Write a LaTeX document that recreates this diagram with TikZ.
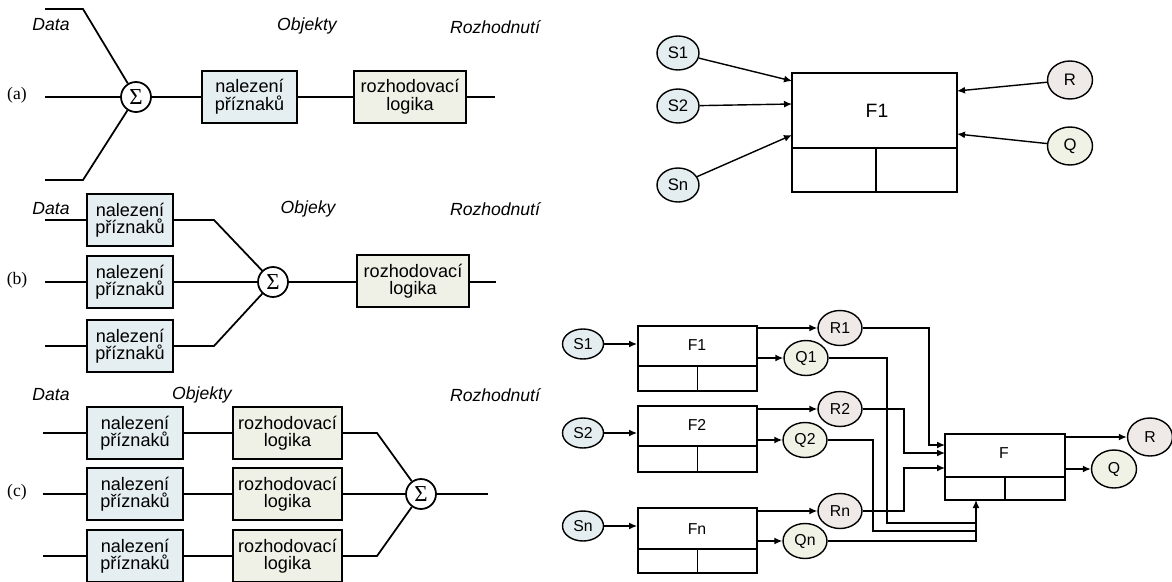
\documentclass[tikz,border=0pt]{standalone}
\usepackage{fontspec}
\setsansfont{Liberation Sans}
\newfontfamily\partfont{Liberation Serif}
\usetikzlibrary{shapes.geometric,arrows.meta}
\definecolor{nalfill}{HTML}{E5EEF1}
\definecolor{rozfill}{HTML}{EFF1E6}
\definecolor{sfill}{HTML}{E4EDEF}
\definecolor{rfill}{HTML}{EFEAE7}
\definecolor{qfill}{HTML}{F1F2E6}
\begin{document}
\begin{tikzpicture}[x=0.02cm,y=-0.02cm,line width=0.8pt,
  nal/.style={draw, line width=1.2pt, fill=nalfill, align=center, inner sep=0pt, minimum height=1.04cm, font=\sffamily\fontsize{10.3}{10}\selectfont},
  roz/.style={nal, fill=rozfill},
  sum/.style={circle, draw, line width=1pt, fill=white, inner sep=0pt, minimum size=0.6cm, font=\partfont\fontsize{13}{13}\selectfont},
  tag/.style={font=\sffamily\itshape\fontsize{10}{12}\selectfont},
  part/.style={font=\partfont\fontsize{10}{12}\selectfont},
  wire/.style={line width=1pt},
  fbox/.style={draw, line width=1.1pt, inner sep=0pt},
  flab/.style={font=\sffamily\fontsize{9}{10}\selectfont},
  sig/.style={ellipse, draw, line width=0.8pt, fill=sfill, inner sep=0pt, minimum width=0.82cm, minimum height=0.6cm, font=\sffamily\fontsize{9}{10}\selectfont},
  rel/.style={sig, fill=rfill, minimum width=0.88cm, minimum height=0.7cm},
  qel/.style={rel, fill=qfill},
  arr/.style={-{Latex[length=1.6mm,width=1.4mm]}}]
\useasboundingbox (0,0) rectangle (1172,581);

% (a)
\node[tag] (ad) at (51,25) {Data};
\node[tag] (ao) at (307,26) {Objekty};
\node[tag] (ar) at (495,27) {Rozhodnutí};
\node[part] (al) at (17,95) {(a)};
\node[sum] (sa) at (136,97) {Σ};
\node[nal, minimum width=1.9cm] (na) at (249.5,97) {nalezení\\příznaků};
\node[roz, minimum width=2.24cm] (ra) at (410,97) {rozhodovací\\logika};
\coordinate (a1) at (45,9);
\coordinate (a1k) at (83,9);
\coordinate (a2) at (45,97);
\coordinate (a3) at (45,180);
\coordinate (a3k) at (83,180);
\coordinate (aout) at (495,97);
\draw[wire] (a1) -- (a1k) -- (sa);
\draw[wire] (a2) -- (sa);
\draw[wire] (a3) -- (a3k) -- (sa);
\draw[wire] (sa) -- (na);
\draw[wire] (na) -- (ra);
\draw[wire] (ra) -- (aout);

% (b)
\node[tag] (bd) at (51,209) {Data};
\node[tag] (bo) at (308,209) {Objeky};
\node[tag] (br) at (495,209) {Rozhodnutí};
\node[part] (bl) at (17,280) {(b)};
\node[nal, minimum width=1.72cm] (nb1) at (130,220) {nalezení\\příznaků};
\node[nal, minimum width=1.72cm] (nb2) at (130,282) {nalezení\\příznaků};
\node[nal, minimum width=1.72cm] (nb3) at (130,346) {nalezení\\příznaků};
\node[sum] (sb) at (273,282) {Σ};
\node[roz, minimum width=2.24cm] (rb) at (413,281) {rozhodovací\\logika};
\coordinate (b1) at (45,220);
\coordinate (b2) at (45,282);
\coordinate (b3) at (45,346);
\coordinate (b1k) at (214,220);
\coordinate (b3k) at (214,346);
\coordinate (bout) at (496,282);
\draw[wire] (b1) -- (nb1);
\draw[wire] (b2) -- (nb2);
\draw[wire] (b3) -- (nb3);
\draw[wire] (nb1.east) -- (b1k) -- (sb);
\draw[wire] (nb2) -- (sb);
\draw[wire] (nb3.east) -- (b3k) -- (sb);
\draw[wire] (sb) -- (sb -| rb.west);
\draw[wire] (rb.east |- sb) -- (bout);

% (c)
\node[tag] (cd) at (51,395) {Data};
\node[tag] (co) at (202,395) {Objekty};
\node[tag] (cr) at (495,395) {Rozhodnutí};
\node[part] (cl) at (17,492) {(c)};
\node[nal, minimum width=1.92cm] (nc1) at (135,433) {nalezení\\příznaků};
\node[nal, minimum width=1.92cm] (nc2) at (135,494) {nalezení\\příznaků};
\node[nal, minimum width=1.92cm] (nc3) at (135,556) {nalezení\\příznaků};
\node[roz, minimum width=2.18cm] (rc1) at (287.5,433) {rozhodovací\\logika};
\node[roz, minimum width=2.18cm] (rc2) at (287.5,494) {rozhodovací\\logika};
\node[roz, minimum width=2.18cm] (rc3) at (287.5,556) {rozhodovací\\logika};
\node[sum] (sc) at (421,494) {Σ};
\coordinate (c1) at (43,433);
\coordinate (c2) at (43,494);
\coordinate (c3) at (43,556);
\coordinate (c1k) at (377,433);
\coordinate (c3k) at (377,556);
\coordinate (cout) at (488,494);
\draw[wire] (c1) -- (nc1);
\draw[wire] (c2) -- (nc2);
\draw[wire] (c3) -- (nc3);
\draw[wire] (nc1) -- (rc1);
\draw[wire] (nc2) -- (rc2);
\draw[wire] (nc3) -- (rc3);
\draw[wire] (rc1.east) -- (c1k) -- (sc);
\draw[wire] (rc2) -- (sc);
\draw[wire] (rc3.east) -- (c3k) -- (sc);
\draw[wire] (sc) -- (cout);

% top right
\node[fbox, minimum width=3.3cm, minimum height=2.38cm] (tf) at (874.5,132.5) {};
\draw[line width=1.1pt] (tf.west |- 0,148) -- (tf.east |- 0,148);
\draw[line width=1.1pt] (876,148) -- (tf.south -| 876,0);
\node[font=\sffamily\fontsize{11}{12}\selectfont] (tft) at (877,111) {F1};
\node[sig, minimum width=0.84cm, minimum height=0.68cm, font=\sffamily\fontsize{9.5}{10}\selectfont] (ts1) at (678,53) {S1};
\node[sig, minimum width=0.84cm, minimum height=0.68cm, font=\sffamily\fontsize{9.5}{10}\selectfont] (ts2) at (678,106) {S2};
\node[sig, minimum width=0.84cm, minimum height=0.68cm, font=\sffamily\fontsize{9.5}{10}\selectfont] (tsn) at (678,185) {Sn};
\node[rel, minimum width=0.9cm, minimum height=0.76cm, font=\sffamily\fontsize{9.5}{10}\selectfont] (tr) at (1070,80) {R};
\node[qel, minimum width=0.9cm, minimum height=0.76cm, font=\sffamily\fontsize{9.5}{10}\selectfont] (tq) at (1070,146) {Q};
\coordinate (ti1) at (792,81);
\coordinate (ti2) at (792,104);
\coordinate (ti3) at (792,135);
\coordinate (ti4) at (957,91);
\coordinate (ti5) at (957,134);
\draw[arr] (ts1) -- (ti1);
\draw[arr] (ts2) -- (ti2);
\draw[arr] (tsn) -- (ti3);
\draw[arr] (tr) -- (ti4);
\draw[arr] (tq) -- (ti5);

% bottom right
\node[fbox, minimum width=2.38cm, minimum height=1.3cm] (bf1) at (697.5,358.5) {};
\node[fbox, minimum width=2.38cm, minimum height=1.32cm] (bf2) at (697.5,439) {};
\node[fbox, minimum width=2.38cm, minimum height=1.3cm] (bfn) at (697.5,540.5) {};
\node[fbox, minimum width=2.4cm, minimum height=1.32cm] (bff) at (1005,467) {};
\draw[line width=1.1pt] (bf1.west |- 0,366) -- (bf1.east |- 0,366);
\draw[line width=1.1pt] (bf1.center |- 0,366) -- (bf1.south);
\draw[line width=1.1pt] (bf2.west |- 0,446) -- (bf2.east |- 0,446);
\draw[line width=1.1pt] (bf2.center |- 0,446) -- (bf2.south);
\draw[line width=1.1pt] (bfn.west |- 0,549) -- (bfn.east |- 0,549);
\draw[line width=1.1pt] (bfn.center |- 0,549) -- (bfn.south);
\draw[line width=1.1pt] (bff.west |- 0,477) -- (bff.east |- 0,477);
\draw[line width=1.1pt] (bff.center |- 0,477) -- (bff.south);
\node[flab] (bf1t) at (697,345) {F1};
\node[flab] (bf2t) at (697,425) {F2};
\node[flab] (bfnt) at (697,529) {Fn};
\node[flab] (bfft) at (1004,453) {F};
\node[sig] (s1) at (583,344) {S1};
\node[sig] (s2) at (583,433) {S2};
\node[sig] (sn) at (583,526) {Sn};
\node[rel] (r1) at (840,328) {R1};
\node[qel] (q1) at (806,358) {Q1};
\node[rel] (r2) at (840,409) {R2};
\node[qel] (q2) at (805,440) {Q2};
\node[rel] (rn) at (840,511) {Rn};
\node[qel] (qn) at (805,541) {Qn};
\node[rel, minimum width=0.9cm, minimum height=0.76cm] (rr) at (1150,437) {R};
\node[qel, minimum width=0.9cm, minimum height=0.76cm] (qq) at (1114,469) {Q};
\coordinate (fi1) at (945,445);
\coordinate (fi2) at (945,453);
\coordinate (fi3) at (945,468);
\coordinate (fq) at (976,500);
\draw[arr] (s1) -- (s1 -| bf1.west);
\draw[arr] (s2) -- (s2 -| bf2.west);
\draw[arr] (sn) -- (sn -| bfn.west);
\draw[arr] (bf1.east |- r1) -- (r1);
\draw[arr] (bf1.east |- q1) -- (q1);
\draw[arr] (bf2.east |- r2) -- (r2);
\draw[arr] (bf2.east |- q2) -- (q2);
\draw[arr] (bfn.east |- rn) -- (rn);
\draw[arr] (bfn.east |- qn) -- (qn);
\draw[arr] (r1.east) -| (929,445) -- (fi1);
\draw[arr] (r2.east) -| (904,453) -- (fi2);
\draw[arr] (rn.east) -| (904,468) -- (fi3);
\draw (q1.east) -| (887,523) -- (fq |- 0,523);
\draw (q2.east) -| (873,531) -- (fq |- 0,531);
\draw[arr] (qn.east) -| (fq);
\draw[arr] (bff.east |- rr) -- (rr);
\draw[arr] (bff.east |- qq) -- (qq);
\end{tikzpicture}
\end{document}
